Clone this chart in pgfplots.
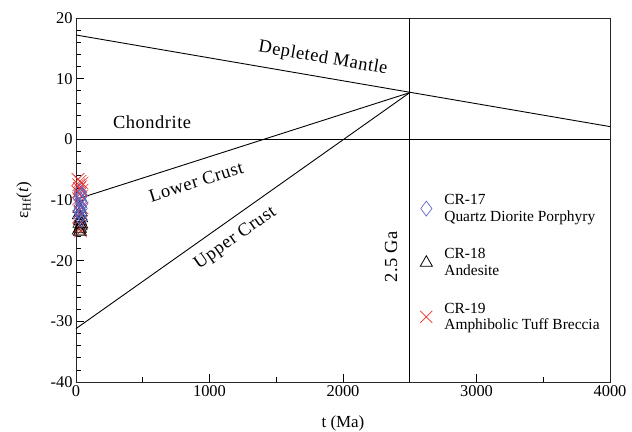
\documentclass[border=0pt]{standalone}
\usepackage{pgfplots}
\pgfplotsset{compat=1.18}
\usepackage{fontspec}
\setmainfont{Liberation Serif}
\newfontfamily\labfont[LetterSpace=3]{Liberation Serif}
\definecolor{dblue}{RGB}{95,105,205}
\definecolor{xred}{RGB}{235,45,40}
\begin{document}
\begin{tikzpicture}
\path[use as bounding box] (-76bp,-50bp) rectangle (556bp,382bp);
\begin{axis}[at={(0,0)}, anchor=south west, scale only axis,
  width=534bp, height=364bp,
  xmin=0, xmax=4000, ymin=-40, ymax=20,
  xtick={0,1000,2000,3000,4000}, minor xtick={500,1500,2500,3500},
  ytick={-40,-30,-20,-10,0,10,20}, minor y tick num=4,
  tick align=inside, xtick pos=bottom, ytick pos=left,
  major tick length=8bp, minor tick length=5bp,
  tick style={black, line width=0.7pt},
  axis line style={line width=0.8pt, black!85},
  ticklabel style={font=\fontsize{16.5}{19}\selectfont},
  /pgf/number format/assume math mode=true,
  /pgf/number format/1000 sep={},
  xlabel={t (Ma)}, ylabel={ε\textsubscript{Hf}(\textit{t})},
  label style={font=\fontsize{17}{20}\selectfont},
  xlabel style={yshift=-12bp},
  ylabel style={yshift=12bp},
  clip=false,
  legend style={draw=none, fill=none, at={(axis cs:2555,-8.4)}, anchor=north west,
    font=\fontsize{15.5}{16.5}\selectfont, row sep=22bp,
    cells={anchor=west, align=left}, /tikz/every odd column/.append style={column sep=10bp}},
  legend cell align=left,
]
\addplot[black, line width=0.9pt, forget plot] coordinates {(0,17.2) (4000,2.1)};
\addplot[black, line width=0.9pt, forget plot] coordinates {(0,0) (4000,0)};
\addplot[black, line width=0.9pt, forget plot] coordinates {(0,-9.9) (2500,7.7)};
\addplot[black, line width=0.9pt, forget plot] coordinates {(0,-31.2) (2500,7.7)};
\addplot[black, line width=0.9pt, forget plot] coordinates {(2500,-40) (2500,20)};
% legend-only images in order
\addlegendimage{only marks, mark=diamond, mark size=7.5pt, dblue, mark options={line width=0.7pt}}
\addlegendentry{CR-17\\Quartz Diorite Porphyry}
\addlegendimage{only marks, mark=triangle, mark size=7pt, black, mark options={line width=0.8pt}}
\addlegendentry{CR-18\\Andesite}
\addlegendimage{only marks, mark=x, mark size=8.5pt, xred, mark options={line width=0.7pt}}
\addlegendentry{CR-19\\Amphibolic Tuff Breccia}
% CR-19
\addplot[only marks, mark=x, mark size=9pt, xred, mark options={line width=0.6pt}, forget plot] coordinates {
(15,-6.6) (30,-6.9) (45,-7.2) (20,-7.5) (35,-7.8) (25,-8.1) (45,-8.4) (15,-8.7) (30,-9.0) (40,-9.4) (20,-9.8)
(35,-10.2) (25,-10.8) (45,-11.3) (30,-12.0) (20,-12.8) (40,-13.6) (30,-14.3) (25,-14.8) (35,-15.1)};
% CR-18
\addplot[only marks, mark=triangle, mark size=7.5pt, black, mark options={line width=0.6pt}, forget plot] coordinates {
(25,-11.4) (35,-12.0) (20,-12.5) (40,-13.0) (30,-13.4) (25,-13.9) (35,-14.3) (30,-14.7) (20,-15.0) (40,-14.0) (30,-15.2)};
% CR-17
\addplot[only marks, mark=diamond, mark size=8pt, dblue, mark options={line width=0.6pt}, forget plot] coordinates {
(30,-8.6) (40,-9.2) (25,-9.7) (35,-10.1) (45,-10.6) (30,-11.0) (40,-11.4) (25,-11.8) (35,-12.3) (30,-12.8) (40,-13.2) (30,-11.6) (35,-9.5)};
% labels
\node[rotate=-9.8, font=\labfont\fontsize{18.5}{22}\selectfont] at (axis cs:1850,13.3) {Depleted Mantle};
\node[font=\labfont\fontsize{18.5}{22}\selectfont] at (axis cs:570,2.9) {Chondrite};
\node[rotate=17.6, font=\labfont\fontsize{18.5}{22}\selectfont] at (axis cs:900,-7.0) {Lower Crust};
\node[rotate=35.1, font=\labfont\fontsize{18.5}{22}\selectfont] at (axis cs:1195,-16.3) {Upper Crust};
\node[rotate=90, font=\labfont\fontsize{18.5}{22}\selectfont] at (axis cs:2360,-19.4) {2.5 Ga};
\end{axis}
\end{tikzpicture}
\end{document}
